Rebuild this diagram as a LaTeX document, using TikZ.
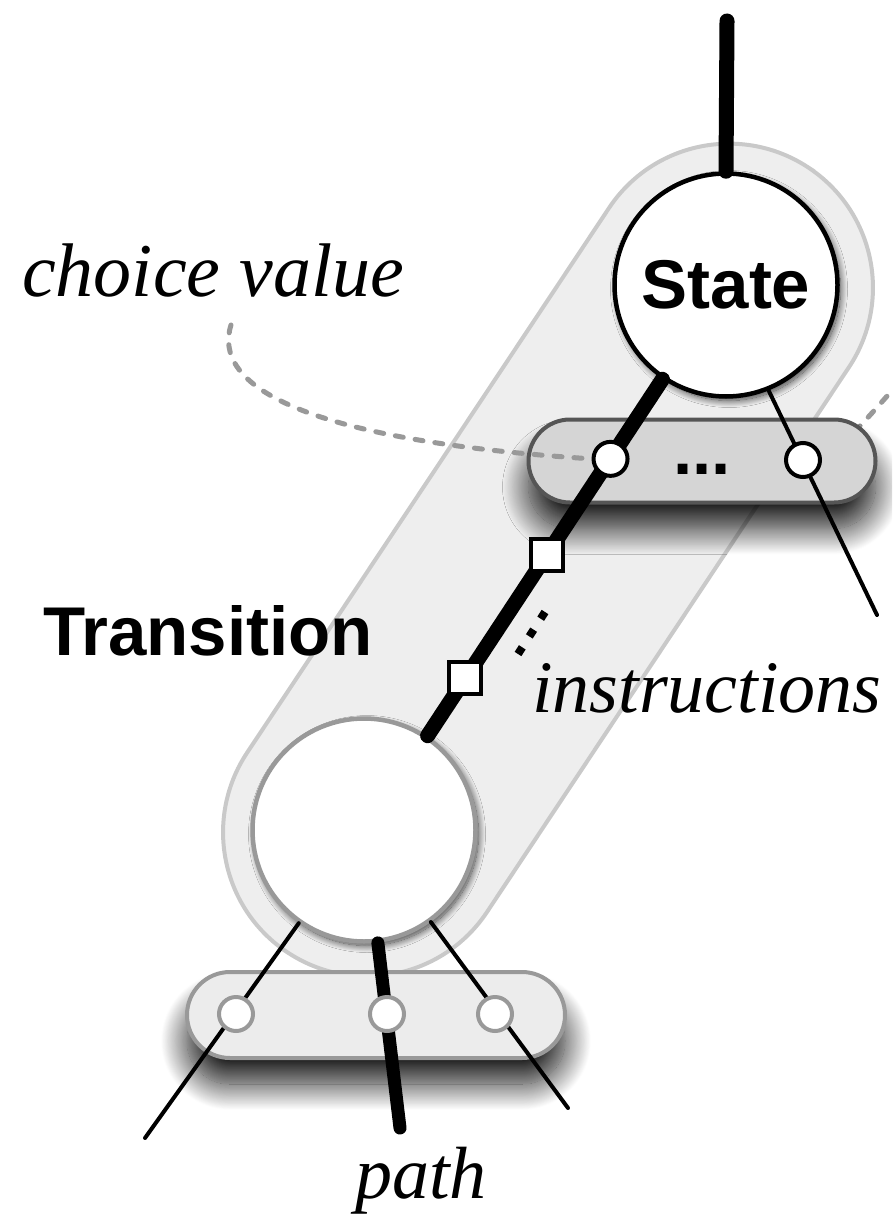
\documentclass[tikz,border=0pt]{standalone}
\usepackage{fontspec}
\setmainfont{Liberation Serif}
\setsansfont{Liberation Sans}
\usepackage{tikz}
\usetikzlibrary{calc,shadows.blur}
\definecolor{capfill}{HTML}{EEEEEE}
\definecolor{capline}{HTML}{C9C9C9}
\definecolor{barfill}{HTML}{D5D5D5}
\definecolor{barline}{HTML}{555555}
\definecolor{pbarfill}{HTML}{ECECEC}
\definecolor{midgray}{HTML}{999999}

\begin{document}
\begin{tikzpicture}[x=1pt, y=-1pt,
  wire/.style={line width=4pt, line cap=round},
  mainwire/.style={line width=15pt, line cap=round},
  hint/.style={midgray, line width=5pt, line cap=round, dash pattern=on 8pt off 12pt},
  statenode/.style={circle, draw, fill=white, inner sep=0pt, minimum size=223pt, line width=4.5pt,
    blur shadow={shadow xshift=3pt, shadow yshift=-4pt, shadow blur radius=7pt,
      shadow blur steps=20, shadow opacity=75}},
  bar/.style={rectangle, rounded corners=41.5pt, minimum width=347pt, minimum height=83pt,
    line width=4pt, inner sep=0pt,
    blur shadow={shadow xshift=0pt, shadow yshift=-26pt, shadow blur radius=26pt,
      shadow blur steps=30, shadow opacity=90}},
  slot/.style={circle, draw, fill=white, line width=4pt, minimum size=34pt, inner sep=0pt},
  instr/.style={rectangle, draw, fill=white, line width=4pt, minimum size=32pt, inner sep=0pt},
  lbl/.style={font=\fontsize{74}{80}\selectfont\itshape, inner sep=0pt},
  head/.style={font=\fontsize{69}{75}\selectfont\sffamily\bfseries, inner sep=0pt}]
  \path[use as bounding box, clip] (0,0) rectangle (892,1214);

  % transition capsule
  \node[rectangle, rotate=56.4, draw=capline, fill=capfill, line width=4pt,
    rounded corners=144pt, minimum width=942pt, minimum height=288pt] (transition) at (548,560) {};

  \node[statenode, draw=midgray] (next) at (364,830) {};
  \node[statenode, head] (state) at (726,285) {State};

  % choice bars
  \coordinate (cvr) at (803,460);
  \draw[hint] (cvr) .. controls (838,452) .. (910,370);
  \node[bar, draw=barline, fill=barfill] (choicebar) at (702,461) {};
  \node[bar, draw=midgray, fill=pbarfill, minimum width=378pt, minimum height=86pt,
    rounded corners=43pt] (pathbar) at (376,1015) {};
  \node[head, anchor=base] (more) at (702,474) {...};

  % edges
  \coordinate (root) at (727,21);
  \coordinate (cvout) at (877,615);
  \coordinate (pout1) at (145,1138);
  \coordinate (pout2) at (400,1128);
  \coordinate (pout3) at (568,1108);
  \draw[mainwire] (root) -- (state.north);
  \draw[mainwire] (state.236.4) -- (next.56.4);
  \draw[wire] (state.292.7) -- (cvout);
  \draw[wire] (next.235.4) -- (pout1);
  \draw[mainwire, line width=13pt] (next.277) -- (pout2);
  \draw[wire] (next.306) -- (pout3);

  \coordinate (cvtail) at (231,325);
  \draw[hint] (cvtail) .. controls (212,385) and (300,440) .. ($(state)!0.319!(next)+(-19,0)$);

  % instructions and values
  \node[instr] (ins1) at ($(state)!0.495!(next)$) {};
  \node[instr] (ins2) at ($(state)!0.721!(next)$) {};
  \draw[line width=8pt, dash pattern=on 8pt off 13pt] (545,612) -- (518,654);
  \node[slot] (cv1) at ($(state)!0.319!(next)$) {};
  \node[slot] (cv2) at (cvr) {};
  \node[slot, draw=midgray] (pv1) at (236,1014) {};
  \node[slot, draw=midgray] (pv2) at (387,1014) {};
  \node[slot, draw=midgray] (pv3) at (495,1014) {};

  % labels
  \node[lbl, font=\fontsize{76}{82}\selectfont\itshape, anchor=base west] (cvlabel) at (22,297) {choice value};
  \node[head, anchor=base west] (translabel) at (43,655) {Transition};
  \node[lbl, anchor=base west] (inslabel) at (532,712) {instructions};
  \node[lbl, anchor=base west] (pathlabel) at (355,1198) {path};
\end{tikzpicture}
\end{document}
